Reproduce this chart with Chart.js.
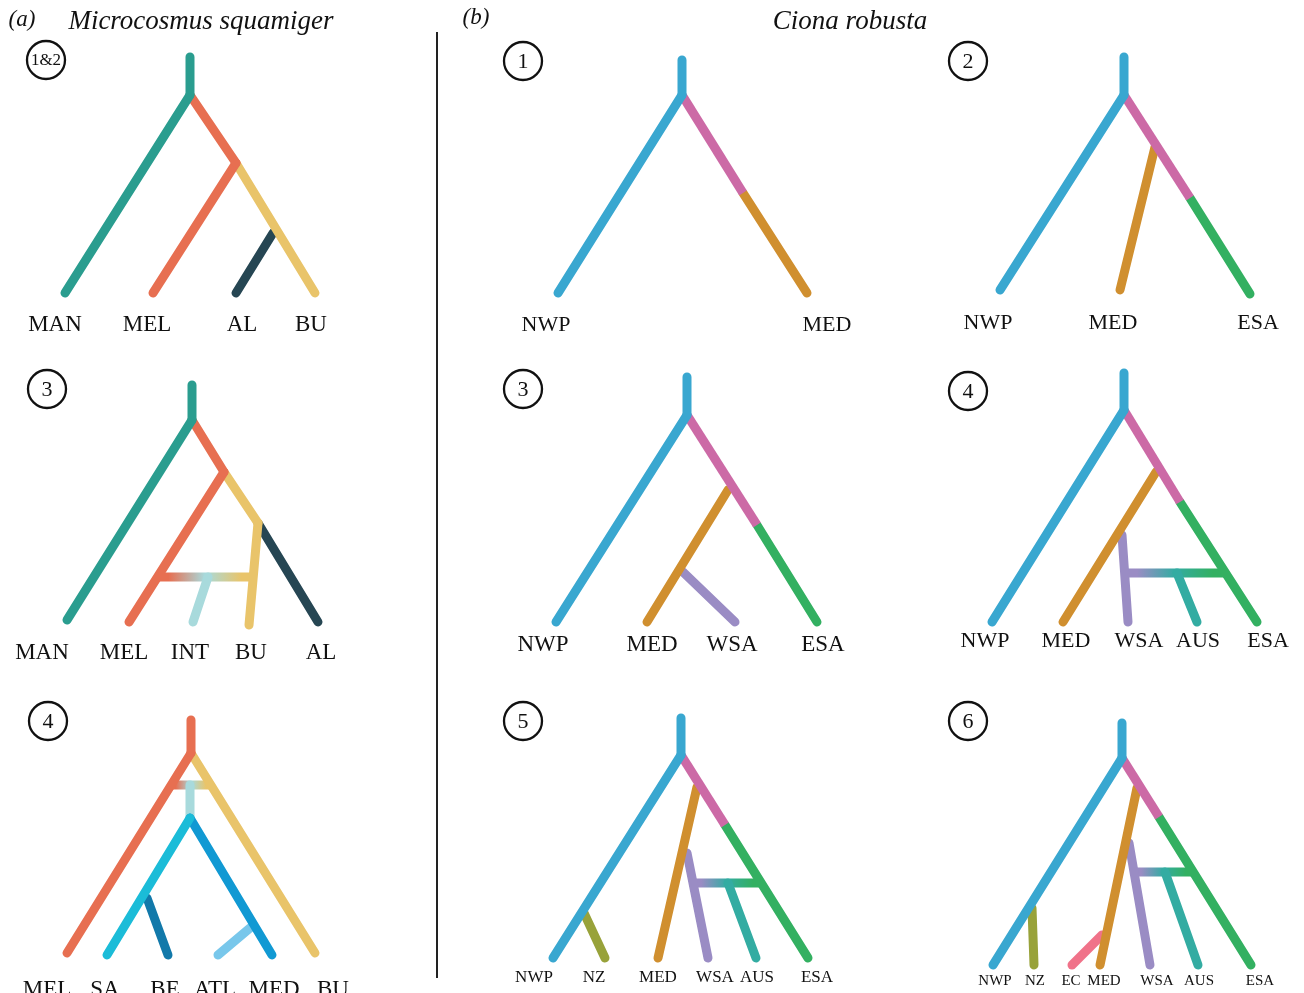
<!DOCTYPE html>
<html lang="en">
<head>
    <meta charset="UTF-8">
    <title>Microcosmus squamiger / Ciona robusta scenarios</title>
    <script src="https://cdn.jsdelivr.net/npm/chart.js"></script>
    <style>
        body { margin: 0; padding: 0; background: white; }
        canvas { display: block; }
    </style>
</head>
<body>
    <canvas id="trees" width="1304" height="993"></canvas>

    <script>
        // lineage colours
        const palette = {
            MAN: "#2a9d8f", MEL: "#e76f51", BU: "#e9c46a", AL: "#264653", INT: "#a8dadc",
            SA: "#1bbcd8", AMED: "#1199d3", BE: "#1279aa", ATL: "#78c7eb",
            NWP: "#39a7d0", ANC: "#cc6aa6", MED: "#d08f2f", ESA: "#33b061",
            WSA: "#9a8cc4", AUS: "#33aca2", NZ: "#98a23a", EC: "#f07289"
        };

        // branches: [lineage, x1, y1, x2, y2] in figure units, parents listed before children
        const a12Branches = [
            ["MAN", 190, 57, 190, 95], ["MAN", 190, 95, 65, 293],
            ["MEL", 190, 95, 236, 163], ["MEL", 236, 163, 153, 293],
            ["BU", 236, 163, 315, 293], ["AL", 273, 233, 236, 293]
        ];
        const a3Branches = [
            ["MAN", 192, 385, 192, 420], ["MAN", 192, 420, 67, 620],
            ["MEL", 192, 420, 224, 472], ["MEL", 224, 472, 129, 622],
            ["BU", 224, 472, 258, 523], ["BU", 258, 523, 249, 625],
            ["AL", 258, 523, 318, 622], ["INT", 208, 577, 193, 622]
        ];
        const a4Branches = [
            ["MEL", 191, 720, 191, 753], ["MEL", 191, 753, 67, 953],
            ["BU", 191, 753, 315, 953], ["SA", 190, 818, 107, 955],
            ["AMED", 190, 818, 272, 955], ["INT", 190, 785, 190, 818],
            ["BE", 147, 898, 168, 955], ["ATL", 250, 928, 218, 955]
        ];
        const b1Branches = [
            ["NWP", 682, 60, 682, 95], ["NWP", 682, 95, 558, 293],
            ["ANC", 682, 95, 743, 193], ["MED", 743, 193, 807, 293]
        ];
        const b2Branches = [
            ["NWP", 1124, 57, 1124, 95], ["NWP", 1124, 95, 1000, 290],
            ["ANC", 1124, 95, 1190, 198], ["ESA", 1190, 198, 1250, 294],
            ["MED", 1155, 147, 1120, 290]
        ];
        const b3Branches = [
            ["NWP", 687, 377, 687, 415], ["NWP", 687, 415, 556, 622],
            ["ANC", 687, 415, 757, 525], ["ESA", 757, 525, 817, 622],
            ["MED", 728, 490, 647, 622], ["WSA", 683, 572, 735, 622]
        ];
        const b4Branches = [
            ["NWP", 1124, 373, 1124, 410], ["NWP", 1124, 410, 992, 622],
            ["ANC", 1124, 410, 1180, 502], ["ESA", 1180, 502, 1257, 622],
            ["MED", 1156, 472, 1063, 622], ["WSA", 1122, 535, 1128, 622],
            ["AUS", 1177, 573, 1197, 622]
        ];
        const b5Branches = [
            ["NWP", 681, 718, 681, 755], ["NWP", 681, 755, 553, 958],
            ["ANC", 681, 755, 725, 825], ["ESA", 725, 825, 808, 958],
            ["MED", 697, 787, 658, 958], ["WSA", 687, 853, 708, 958],
            ["AUS", 728, 883, 756, 958], ["NZ", 584, 913, 605, 958]
        ];
        const b6Branches = [
            ["NWP", 1122, 723, 1122, 758], ["NWP", 1122, 758, 993, 965],
            ["ANC", 1122, 758, 1159, 817], ["ESA", 1159, 817, 1251, 965],
            ["MED", 1137, 788, 1100, 965], ["WSA", 1129, 843, 1150, 965],
            ["AUS", 1165, 872, 1198, 965], ["NZ", 1032, 908, 1034, 965],
            ["EC", 1102, 935, 1072, 965]
        ];

        // admixture bars: [x1, y1, x2, y2, lineages blended left to right]
        const admixBars = [
            [157, 577, 253, 577, ["MEL", "INT", "BU"]],
            [171, 785, 211, 785, ["MEL", "INT", "BU"]],
            [1125, 573, 1225, 573, ["WSA", "AUS", "ESA"]],
            [693, 883, 761, 883, ["WSA", "AUS", "ESA"]],
            [1134, 872, 1193, 872, ["WSA", "AUS", "ESA"]]
        ];

        // tip labels: [text, x, y]
        const a12Tips = [["MAN", 55, 325], ["MEL", 147, 325], ["AL", 242, 325], ["BU", 311, 325]];
        const a3Tips = [["MAN", 42, 653], ["MEL", 124, 653], ["INT", 190, 653], ["BU", 251, 653], ["AL", 321, 653]];
        const a4Tips = [["MEL", 47, 990], ["SA", 105, 990], ["BE", 165, 990], ["ATL", 215, 990], ["MED", 274, 990], ["BU", 333, 990]];
        const b1Tips = [["NWP", 546, 325], ["MED", 827, 325]];
        const b2Tips = [["NWP", 988, 323], ["MED", 1113, 323], ["ESA", 1258, 323]];
        const b3Tips = [["NWP", 543, 645], ["MED", 652, 645], ["WSA", 732, 645], ["ESA", 823, 645]];
        const b4Tips = [["NWP", 985, 641], ["MED", 1066, 641], ["WSA", 1139, 641], ["AUS", 1198, 641], ["ESA", 1268, 641]];
        const b5Tips = [["NWP", 534, 978], ["NZ", 594, 978], ["MED", 658, 978], ["WSA", 715, 978], ["AUS", 757, 978], ["ESA", 817, 978]];
        const b6Tips = [["NWP", 995, 981], ["NZ", 1035, 981], ["EC", 1071, 981], ["MED", 1104, 981], ["WSA", 1157, 981], ["AUS", 1199, 981], ["ESA", 1260, 981]];

        // scenario badges: [text, x, y]
        const badges = [
            ["1&2", 46, 60], ["3", 47, 389], ["4", 48, 721],
            ["1", 523, 61], ["2", 968, 61], ["3", 523, 389],
            ["4", 968, 391], ["5", 523, 721], ["6", 968, 721]
        ];

        const tipSets = [
            [a12Tips, 23], [a3Tips, 23], [a4Tips, 23], [b1Tips, 22], [b2Tips, 22],
            [b3Tips, 23], [b4Tips, 22], [b5Tips, 17], [b6Tips, 15]
        ];

        const allBranches = [].concat(a12Branches, a3Branches, a4Branches, b1Branches,
            b2Branches, b3Branches, b4Branches, b5Branches, b6Branches);

        // a branch continued by exactly one differently coloured branch gets a flat end
        function capFor(b) {
            const next = allBranches.filter(o => o[1] === b[3] && o[2] === b[4]);
            return (next.length === 1 && next[0][0] !== b[0]) ? "butt" : "round";
        }

        const datasets = [];
        allBranches.forEach(b => {
            datasets.push({
                data: [{ x: b[1], y: b[2] }, { x: b[3], y: b[4] }],
                borderColor: palette[b[0]],
                borderCapStyle: capFor(b)
            });
        });
        admixBars.forEach(m => {
            datasets.push({
                data: [{ x: m[0], y: m[1] }, { x: m[2], y: m[3] }],
                borderCapStyle: "butt",
                borderColor: ctx => {
                    const chart = ctx.chart;
                    const xs = chart.scales.x;
                    const solid = palette[m[4][1]];
                    if (!xs || !chart.chartArea) return solid;
                    const p0 = xs.getPixelForValue(m[0]), p1 = xs.getPixelForValue(m[2]);
                    if (!isFinite(p0) || !isFinite(p1)) return solid;
                    const g = chart.ctx.createLinearGradient(p0, 0, p1, 0);
                    g.addColorStop(0.12, palette[m[4][0]]);
                    g.addColorStop(0.5, palette[m[4][1]]);
                    g.addColorStop(0.88, palette[m[4][2]]);
                    return g;
                }
            });
        });
        // parents (listed first) sit on top of the branches that hang from them
        datasets.forEach((d, i) => {
            Object.assign(d, {
                showLine: true, borderWidth: 9, borderJoinStyle: "round",
                pointRadius: 0, fill: false, clip: false, order: i + 1
            });
        });
        // divider between (a) and (b)
        datasets.push({
            data: [{ x: 437, y: 32 }, { x: 437, y: 978 }],
            showLine: true, borderColor: "#222", borderWidth: 2, pointRadius: 0, order: 0
        });

        const textPlugin = {
            id: "treeText",
            afterDatasetsDraw(chart) {
                const c = chart.ctx;
                const xs = chart.scales.x, ys = chart.scales.y;
                const px = v => xs.getPixelForValue(v), py = v => ys.getPixelForValue(v);
                c.save();
                c.fillStyle = "#111";
                c.textAlign = "center";
                c.textBaseline = "middle";

                tipSets.forEach(([tips, size]) => {
                    c.font = size + "px 'Liberation Serif', 'DejaVu Serif', serif";
                    tips.forEach(t => c.fillText(t[0], px(t[1]), py(t[2])));
                });

                badges.forEach(b => {
                    c.beginPath();
                    c.lineWidth = 2.3;
                    c.strokeStyle = "#111";
                    c.arc(px(b[1]), py(b[2]), 19, 0, Math.PI * 2);
                    c.stroke();
                    c.font = (b[0].length > 1 ? 17 : 22) + "px 'Liberation Serif', serif";
                    c.fillText(b[0], px(b[1]), py(b[2]) + 1);
                });

                c.font = "italic 23px 'Liberation Serif', serif";
                c.fillText("(a)", px(22), py(20));
                c.fillText("(b)", px(476), py(18));
                c.font = "italic 27px 'Liberation Serif', serif";
                c.fillText("Microcosmus squamiger", px(201), py(22));
                c.fillText("Ciona robusta", px(850), py(22));
                c.restore();
            }
        };

        new Chart(document.getElementById("trees").getContext("2d"), {
            type: "scatter",
            data: { datasets: datasets },
            options: {
                responsive: false,
                animation: false,
                events: [],
                layout: { padding: 0 },
                plugins: { legend: { display: false }, tooltip: { enabled: false } },
                scales: {
                    x: { type: "linear", min: 0, max: 1304, display: false },
                    y: { type: "linear", min: 0, max: 993, reverse: true, display: false }
                }
            },
            plugins: [textPlugin]
        });
    </script>
</body>
</html>
